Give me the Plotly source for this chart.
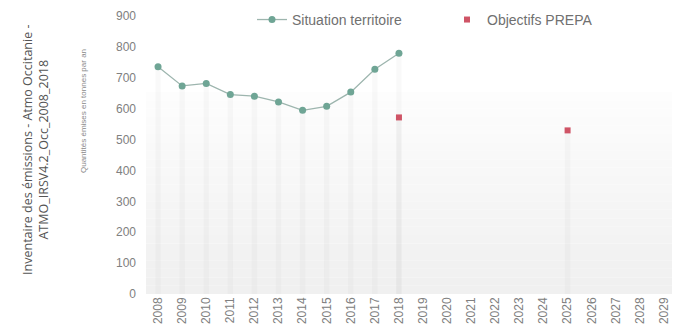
import plotly.graph_objects as go

years = [str(y) for y in range(2008, 2030)]
situation_years = [str(y) for y in range(2008, 2019)]
situation_values = [736, 674, 682, 646, 641, 622, 595, 608, 654, 728, 780]
prepa_years = ["2018", "2025"]
prepa_values = [572, 530]
y_ticks = [0, 100, 200, 300, 400, 500, 600, 700, 800, 900]

teal = "#6fa595"
red = "#cf5466"
grey_txt = "#808080"
Y_MAX = 920

fig = go.Figure()

# faint drop bands under each point
for xs, ys in ((situation_years, situation_values), (prepa_years, prepa_values)):
    fig.add_trace(go.Bar(x=xs, y=ys, width=0.22,
                         marker=dict(color="rgba(170,170,170,0.07)", line=dict(width=0)),
                         showlegend=False, hoverinfo="skip"))

fig.add_trace(go.Scatter(x=situation_years, y=situation_values, mode="lines+markers",
                         name="Situation territoire",
                         line=dict(color="#9db5ae", width=1.3),
                         marker=dict(color=teal, size=7)))
fig.add_trace(go.Scatter(x=prepa_years, y=prepa_values, mode="markers",
                         name="Objectifs PREPA",
                         marker=dict(color=red, size=6, symbol="square")))

# background gradient strips (white at top to light grey at bottom)
shapes = []
n = 24
top = 655 / Y_MAX
for i in range(n):
    y0 = top * i / n
    y1 = top * (i + 1) / n
    g = int(240 + 14 * (i / n))
    shapes.append(dict(type="rect", xref="paper", yref="paper", x0=0, x1=1, y0=y0, y1=y1,
                       fillcolor=f"rgb({g},{g},{g})", line=dict(width=0), layer="below"))

fig.update_layout(
    width=672, height=325,
    margin=dict(l=138, r=4, t=2, b=39, autoexpand=False),
    paper_bgcolor="white", plot_bgcolor="white",
    shapes=shapes,
    barmode="overlay",
    font=dict(family="Liberation Sans Narrow, Liberation Sans, Arial", color=grey_txt, size=11),
    legend=dict(orientation="h", x=0.2, xanchor="left", y=0.965,
                yanchor="middle",
                font=dict(size=14, color="#707070"), entrywidth=150, bgcolor="rgba(0,0,0,0)"),
    xaxis=dict(type="category", categoryorder="array", categoryarray=years,
               tickvals=years, ticktext=years, range=[-0.5, 21.5], automargin=False,
               tickangle=-90, showgrid=False, zeroline=False, showline=False,
               tickfont=dict(size=12, color=grey_txt)),
    yaxis=dict(range=[0, Y_MAX], tickvals=y_ticks, showgrid=False, zeroline=False,
               automargin=False,
               tickfont=dict(size=12, color=grey_txt), ticklabelstandoff=9),
    annotations=[
        dict(text="Inventaire des émissions - Atmo Occitanie -<br>ATMO_IRSV4.2_Occ_2008_2018",
             xref="paper", yref="paper", x=-0.209, y=0.508, xanchor="center", yanchor="middle",
             textangle=-90, showarrow=False,
             font=dict(family="Open Sans", size=12.5, color="#555555")),
        dict(text="Quantités émises en tonnes par an",
             xref="paper", yref="paper", x=-0.119, y=0.644, xanchor="center", yanchor="middle",
             textangle=-90, showarrow=False,
             font=dict(size=8, color="#8a8a8a")),
    ],
)

fig.write_html("out.html")
